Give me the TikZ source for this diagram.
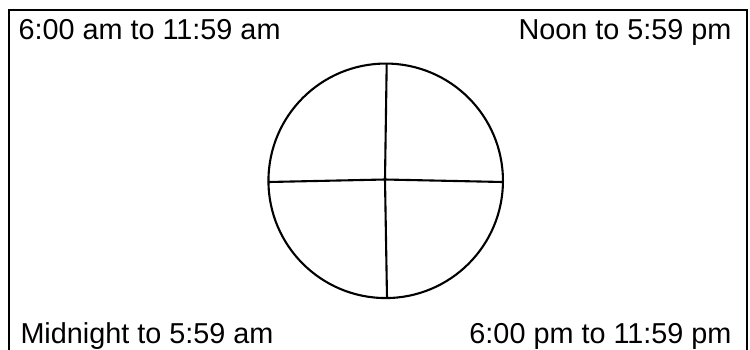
\documentclass[tikz,border=0pt]{standalone}
\usepackage{fontspec}
\setmainfont{Liberation Sans}
\begin{document}
\begin{tikzpicture}[x=1pt,y=-1pt,
  lbl/.style={inner sep=0pt,font=\fontsize{28.8}{32}\selectfont},
  ln/.style={line width=2.1pt,black}]
\useasboundingbox (0,0) rectangle (750,349);
\draw[ln] (9,360) -- (9,10) -- (747,10) -- (747,360);
\node[lbl,anchor=base west] (tl) at (18.3,39.3) {6:00 am to 11:59 am};
\node[lbl,anchor=base east] (tr) at (731.7,39.3) {Noon to 5:59 pm};
\node[lbl,anchor=base west] (bl) at (20.3,343.3) {Midnight to 5:59 am};
\node[lbl,anchor=base east] (br) at (731.7,343.3) {6:00 pm to 11:59 pm};
\node[ln,draw,circle,minimum size=234.5pt,inner sep=0pt] (c) at (385.7,180.8) {};
\coordinate (o) at (385,179.5);
\coordinate (t) at (386.7,63.5);
\coordinate (b) at (387,298);
\coordinate (l) at (268.8,182);
\coordinate (r) at (502.8,182);
\draw[ln] (o) -- (t);
\draw[ln] (o) -- (b);
\draw[ln] (o) -- (l);
\draw[ln] (o) -- (r);
\end{tikzpicture}
\end{document}
